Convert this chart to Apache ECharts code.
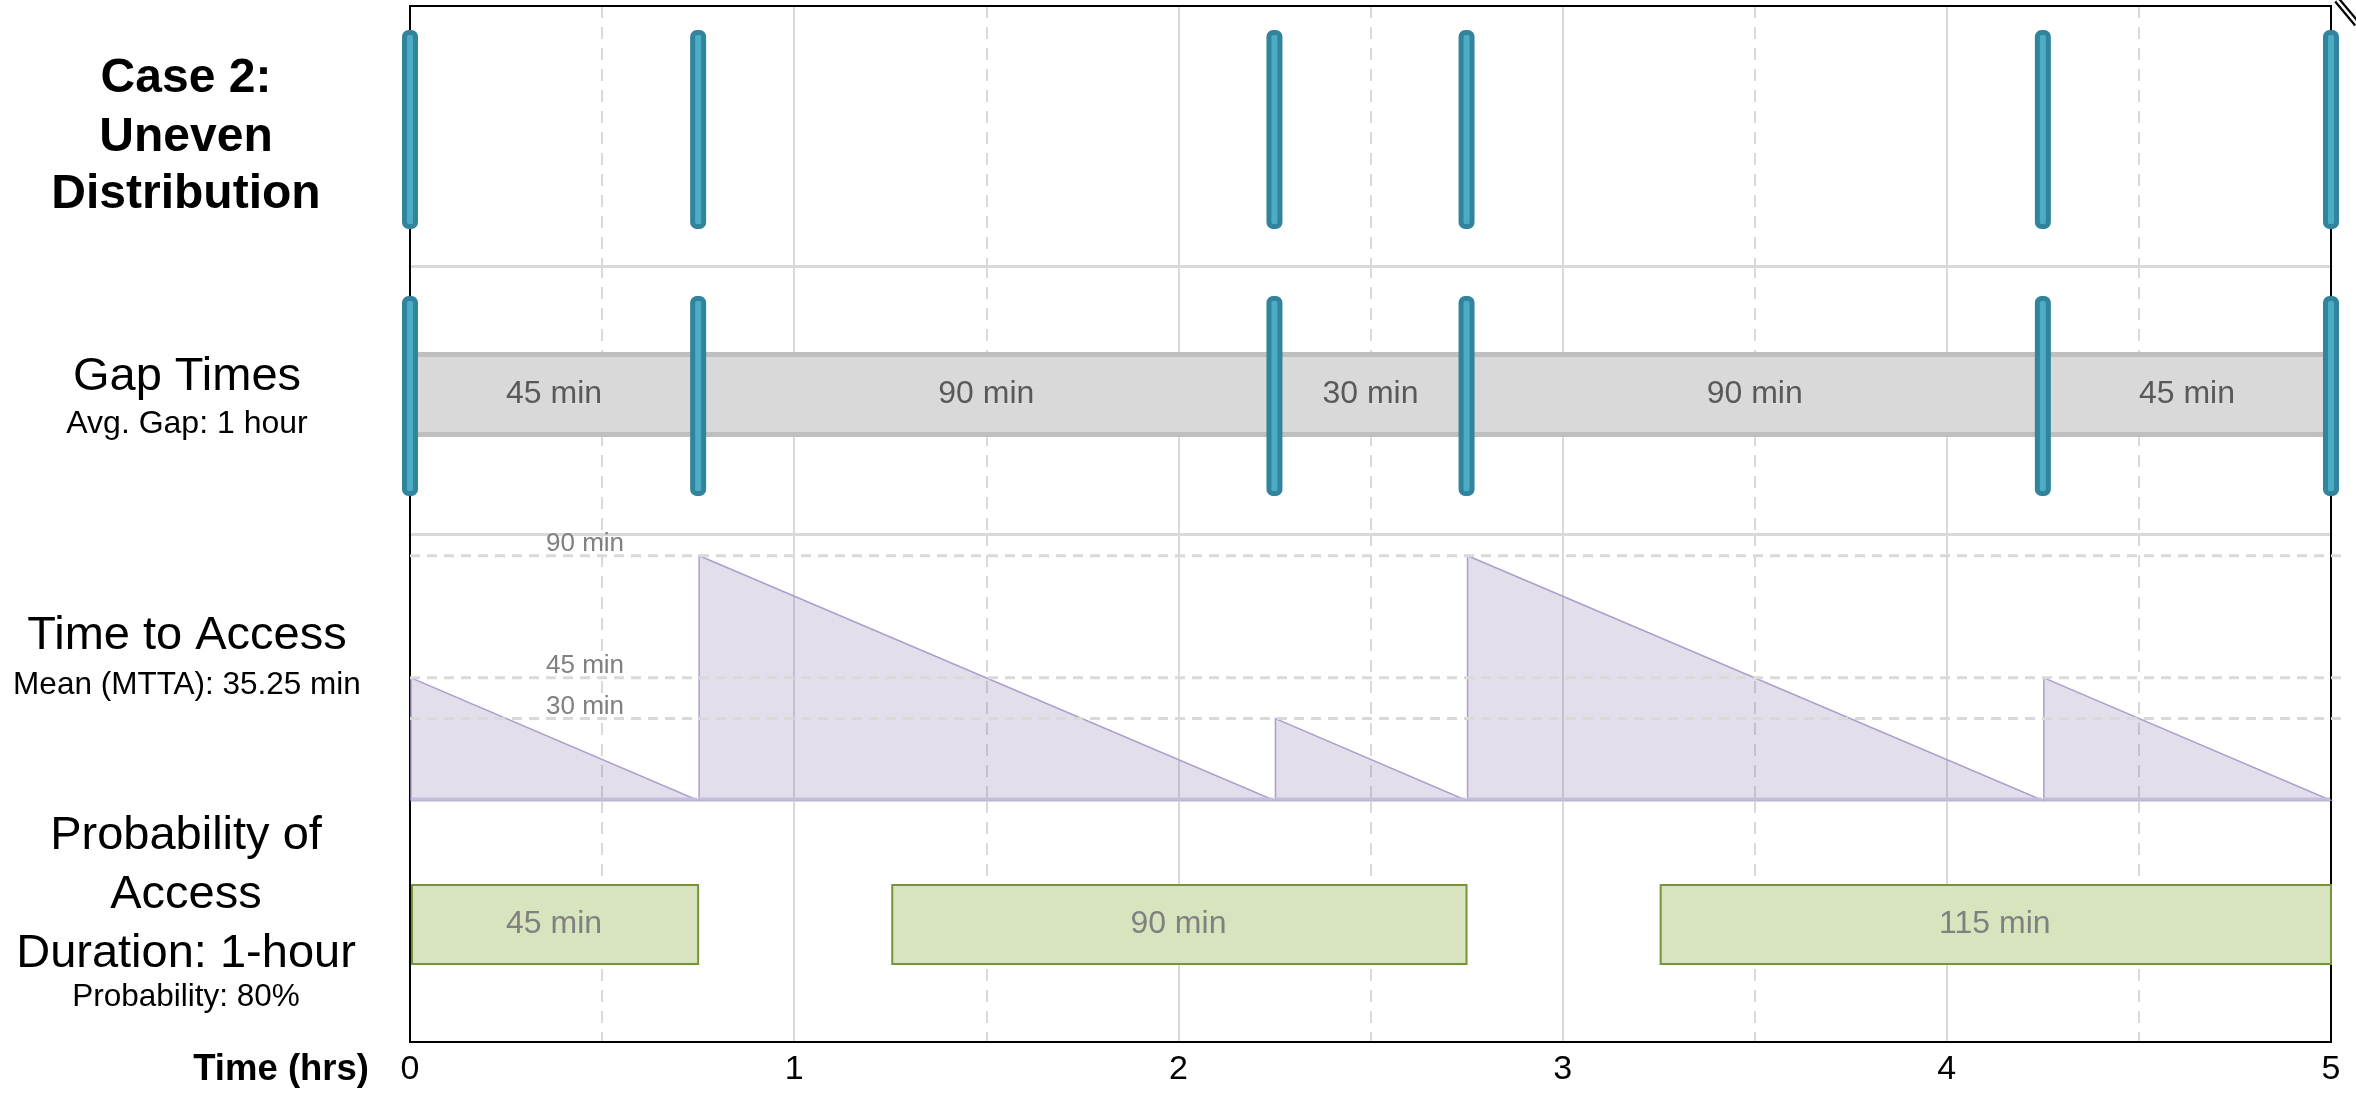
<!DOCTYPE html>
<html>
<head>
<meta charset="utf-8">
<title>Case 2: Uneven Distribution</title>
<script src="https://cdn.jsdelivr.net/npm/echarts@6/dist/echarts.min.js"></script>
<style>
  html, body { margin: 0; padding: 0; background: #ffffff; }
  #chart { width: 2356px; height: 1093px; }
</style>
</head>
<body>
<div id="chart"></div>
<script>
// ---------------- DATA ----------------
const eventTimes   = [0, 0.75, 2.25, 2.75, 4.25, 5];          // hours
const gapMinutes   = [45, 90, 30, 90, 45];                      // minutes between events
const gapLabels    = ['45 min', '90 min', '30 min', '90 min', '45 min'];
const refLineValues = [90, 45, 30];                             // minutes
const refLineLabels = ['90 min', '45 min', '30 min'];
const accessStart  = [0, 1.25, 3.25];                           // hours
const accessEnd    = [0.75, 2.75, 5];                           // hours
const accessLabels = ['45 min', '90 min', '115 min'];
const hourTicks    = [0, 1, 2, 3, 4, 5];

// ---------------- STYLE ----------------
const FONT = "'Liberation Sans', Arial, Helvetica, sans-serif";
const GRID_LEFT = 410, GRID_RIGHT = 25;

const markerData = eventTimes.map(t => [t, 0]);
const gapData = gapMinutes.map((m, i) => [eventTimes[i], eventTimes[i + 1], m]);
const triData = gapMinutes.map((m, i) => [eventTimes[i], eventTimes[i + 1], m]);
const refData = refLineValues.map(v => [0, v]);
const accessData = accessStart.map((s, i) => [s, accessEnd[i], 0.5]);

function xAx(gridIndex, extra) {
  return Object.assign({
    type: 'value', gridIndex: gridIndex, min: hourTicks[0], max: hourTicks[hourTicks.length - 1], interval: 1,
    axisLine: { show: true, lineStyle: { color: '#d9d9d9', width: 3 } },
    axisTick: { show: false },
    axisLabel: { show: false },
    splitLine: { show: true, lineStyle: { color: '#d9d9d9', width: 2 } },
    minorTick: { show: false, splitNumber: 2 },
    minorSplitLine: { show: true, lineStyle: { color: '#d9d9d9', width: 2, type: [12, 9] } }
  }, extra || {});
}
function yAx(gridIndex, max) {
  return { type: 'value', gridIndex: gridIndex, min: 0, max: max, show: false };
}

function makeMarkerRender(topOff, botOff) {
  return function (params, api) {
    const cs = params.coordSys;
    const x = api.coord([api.value(0), 0])[0];
    const top = cs.y + topOff, bottom = cs.y + cs.height - botOff;
    return {
      type: 'rect',
      shape: { x: x - 5.5, y: top + 2.5, width: 11, height: bottom - top - 5, r: 4 },
      style: { fill: '#4bacc6', stroke: '#31849b', lineWidth: 5 }
    };
  };
}

function renderGap(params, api) {
  const cs = params.coordSys;
  const x0 = api.coord([api.value(0), 0])[0];
  const x1 = api.coord([api.value(1), 0])[0];
  const cy = cs.y + 128.5;
  return {
    type: 'group',
    children: [
      { type: 'rect', shape: { x: x0, y: cy - 40, width: x1 - x0, height: 80 },
        style: { fill: '#d9d9d9', stroke: '#bfbfbf', lineWidth: 5 } },
      { type: 'text', x: (x0 + x1) / 2, y: cy,
        style: { text: gapLabels[params.dataIndex], font: '32px ' + FONT, fill: '#595959',
                 align: 'center', verticalAlign: 'middle', textAlign: 'center', textVerticalAlign: 'middle' } }
    ]
  };
}

function renderTri(params, api) {
  const pA = api.coord([api.value(0), 0]);
  const pB = api.coord([api.value(0), api.value(2)]);
  const pC = api.coord([api.value(1), 0]);
  return {
    type: 'group',
    children: [
      { type: 'polygon', shape: { points: [[pA[0] + 1, pA[1]], [pB[0] + 1, pB[1]], [pC[0] - 1, pC[1]]] },
        style: { fill: 'rgba(128,100,162,0.21)', stroke: '#ab9fcf', lineWidth: 1.5 } },
      { type: 'line', shape: { x1: pA[0] + 1, y1: pA[1] - 1, x2: pC[0] - 1, y2: pC[1] - 1 },
        style: { stroke: '#c6bcdc', lineWidth: 3 } }
    ]
  };
}

function renderRef(params, api) {
  const cs = params.coordSys;
  const y = api.coord([0, api.value(1)])[1];
  return {
    type: 'group',
    children: [
      { type: 'line', shape: { x1: cs.x, y1: y, x2: cs.x + cs.width + 10, y2: y },
        style: { stroke: '#d9d9d9', lineWidth: 3, lineDash: [10, 7] } },
      { type: 'text', x: cs.x + 136, y: y + 1,
        style: { text: refLineLabels[params.dataIndex], font: '26px ' + FONT, fill: '#808080',
                 align: 'left', verticalAlign: 'bottom', textAlign: 'left', textVerticalAlign: 'bottom' } }
    ]
  };
}

function renderAccess(params, api) {
  const cs = params.coordSys;
  const x0 = api.coord([api.value(0), 0])[0];
  const x1 = api.coord([api.value(1), 0])[0];
  const cy = cs.y + 123.5;
  return {
    type: 'group',
    children: [
      { type: 'rect', shape: { x: x0 + 2, y: cy - 39.5, width: x1 - x0 - 2, height: 79 },
        style: { fill: '#d7e4bd', stroke: '#77933c', lineWidth: 2 } },
      { type: 'text', x: (x0 + x1) / 2, y: cy,
        style: { text: accessLabels[params.dataIndex], font: '32px ' + FONT, fill: '#808080',
                 align: 'center', verticalAlign: 'middle', textAlign: 'center', textVerticalAlign: 'middle' } }
    ]
  };
}

function txt(text, x, y, size, bold, align) {
  const a = align || 'center';
  return {
    type: 'text', x: x, y: y, z: 10,
    style: { text: text, font: (bold ? 'bold ' : '') + size + 'px ' + FONT, fill: '#000000',
             align: a, verticalAlign: 'middle', textAlign: a, textVerticalAlign: 'middle' }
  };
}

const option = {
  animation: false,
  backgroundColor: '#ffffff',
  grid: [
    { left: GRID_LEFT, right: GRID_RIGHT, top: 6, height: 260 },
    { left: GRID_LEFT, right: GRID_RIGHT, top: 266, height: 268 },
    { left: GRID_LEFT, right: GRID_RIGHT, top: 534, height: 266 },
    { left: GRID_LEFT, right: GRID_RIGHT, top: 801, height: 241 }
  ],
  xAxis: [
    xAx(0),
    xAx(1),
    xAx(2, { offset: 2 }),
    xAx(3, {
      axisLine: { show: true, lineStyle: { color: '#000000', width: 2 } },
      axisLabel: { show: true, fontSize: 34, fontFamily: FONT, color: '#000000', margin: 11,
                   formatter: function (v) { return hourTicks.indexOf(v) >= 0 ? String(v) : ''; } }
    })
  ],
  yAxis: [yAx(0, 1), yAx(1, 1), yAx(2, 98), yAx(3, 1)],
  graphic: [
    { type: 'rect', z: 1, shape: { x: 410, y: 6, width: 1921, height: 1036 },
      style: { fill: 'none', stroke: '#000000', lineWidth: 2 } },
    { type: 'line', z: 1, shape: { x1: 2337, y1: 0, x2: 2357, y2: 24 }, style: { stroke: '#000000', lineWidth: 7 } },
    { type: 'line', z: 1, shape: { x1: 2337, y1: 0, x2: 2357, y2: 24 }, style: { stroke: '#ffffff', lineWidth: 2.5 } },
    txt('Case 2:', 186, 79, 48, true),
    txt('Uneven', 186, 138, 48, true),
    txt('Distribution', 186, 195, 48, true),
    txt('Gap Times', 187, 377, 47, false),
    txt('Avg. Gap: 1 hour', 187, 424, 32, false),
    txt('Time to Access', 187, 636, 47, false),
    txt('Mean (MTTA): 35.25 min', 187, 685, 31.5, false),
    txt('Probability of', 186, 836, 47, false),
    txt('Access', 186, 895, 47, false),
    txt('Duration: 1-hour', 186, 954, 47, false),
    txt('Probability: 80%', 186, 997, 31.5, false),
    txt('Time (hrs)', 369, 1070, 36.5, true, 'right')
  ],
  series: [
    { type: 'custom', name: 'Events', xAxisIndex: 0, yAxisIndex: 0, z: 5, clip: false,
      renderItem: makeMarkerRender(24, 37), data: markerData },
    { type: 'custom', name: 'Gap Times', xAxisIndex: 1, yAxisIndex: 1, z: 3, clip: false,
      renderItem: renderGap, data: gapData },
    { type: 'custom', name: 'Gap Events', xAxisIndex: 1, yAxisIndex: 1, z: 5, clip: false,
      renderItem: makeMarkerRender(30, 38), data: markerData },
    { type: 'custom', name: 'Time to Access', xAxisIndex: 2, yAxisIndex: 2, z: 3, clip: false,
      renderItem: renderTri, data: triData },
    { type: 'custom', name: 'Reference', xAxisIndex: 2, yAxisIndex: 2, z: 4, clip: false,
      renderItem: renderRef, data: refData },
    { type: 'custom', name: 'Probability of Access', xAxisIndex: 3, yAxisIndex: 3, z: 3, clip: false,
      renderItem: renderAccess, data: accessData }
  ]
};

const chart = echarts.init(document.getElementById('chart'), null, { renderer: 'canvas' });
chart.setOption(option);
</script>
</body>
</html>
